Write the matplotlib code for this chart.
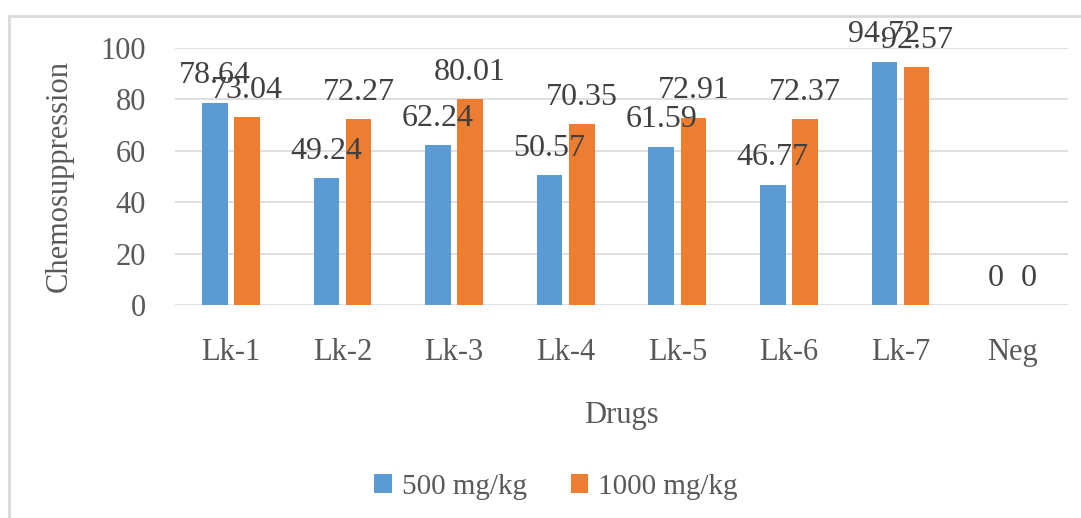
import matplotlib
matplotlib.use("Agg")
import matplotlib.pyplot as plt
from matplotlib.patches import Rectangle
import numpy as np

# Chemosuppression (%) per drug at two doses
drugs = ["Lk-1", "Lk-2", "Lk-3", "Lk-4", "Lk-5", "Lk-6", "Lk-7", "Neg"]
dose_500 = [78.64, 49.24, 62.24, 50.57, 61.59, 46.77, 94.72, 0]
dose_1000 = [73.04, 72.27, 80.01, 70.35, 72.91, 72.37, 92.57, 0]
series_names = ["500 mg/kg", "1000 mg/kg"]
y_ticks = [0, 20, 40, 60, 80, 100]

plt.rcParams["font.family"] = ["Liberation Serif", "DejaVu Serif"]

W, H = 1081, 518
fig = plt.figure(figsize=(W / 100, H / 100), dpi=100)
fig.patch.set_facecolor("white")

# chart-area border
fig.add_artist(Rectangle((9 / W, -0.1), 1.2, 1 - 16 / H + 0.1,
                         transform=fig.transFigure, fill=False,
                         edgecolor="#D9D9D9", linewidth=2))

ax = fig.add_axes([175 / W, 1 - 305 / H, (1068 - 175) / W, (305 - 48) / H])

blue = "#5B9BD5"
orange = "#ED7D31"
x = np.arange(len(drugs))
bw = 0.23
off = 0.144

b1 = ax.bar(x - off, dose_500, bw, color=blue, label=series_names[0], zorder=3)
b2 = ax.bar(x + off, dose_1000, bw, color=orange, label=series_names[1], zorder=3)

for bars, vals in ((b1, dose_500), (b2, dose_1000)):
    for rect, v in zip(bars, vals):
        ax.annotate(f"{v:g}", (rect.get_x() + rect.get_width() / 2, v),
                    xytext=(0, 14), textcoords="offset points",
                    ha="center", va="baseline", fontsize=23,
                    color="#404040", zorder=4)

ax.set_xlim(-0.5, len(drugs) - 0.5)
ax.set_ylim(0, 100)
ax.set_yticks(y_ticks)
ax.set_xticks(x)
ax.set_xticklabels(drugs)
ax.tick_params(axis="both", length=0, labelsize=22, labelcolor="#595959")
ax.tick_params(axis="y", pad=21)
ax.tick_params(axis="x", pad=24)
ax.yaxis.grid(True, color="#D9D9D9", linewidth=1.2, zorder=0)
ax.set_axisbelow(True)
for s in ax.spines.values():
    s.set_visible(False)

ax.set_ylabel("Chemosuppression", fontsize=22, color="#595959", labelpad=19)
ax.set_xlabel("Drugs", fontsize=22, color="#595959", labelpad=24)

fig.legend(handles=[b1, b2], labels=series_names, loc="center",
           bbox_to_anchor=(556 / W, 1 - 487 / H), ncol=2, frameon=False,
           fontsize=21, labelcolor="#595959", handlelength=0.6,
           handleheight=0.6, handletextpad=0.35, columnspacing=1.5)

fig.savefig("out.png", dpi=100, facecolor="white")
